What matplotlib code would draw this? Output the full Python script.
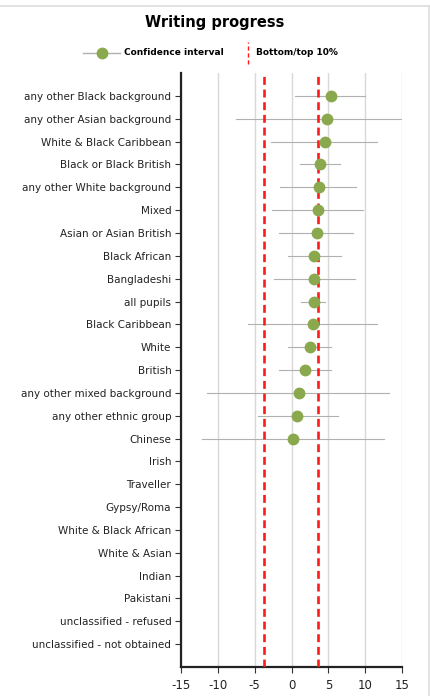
import matplotlib.pyplot as plt
from matplotlib.lines import Line2D

plt.rcParams['axes.unicode_minus'] = False

groups = ['any other Black background', 'any other Asian background', 'White & Black Caribbean',
          'Black or Black British', 'any other White background', 'Mixed', 'Asian or Asian British',
          'Black African', 'Bangladeshi', 'all pupils', 'Black Caribbean', 'White', 'British',
          'any other mixed background', 'any other ethnic group', 'Chinese', 'Irish', 'Traveller',
          'Gypsy/Roma', 'White & Black African', 'White & Asian', 'Indian', 'Pakistani',
          'unclassified - refused', 'unclassified - not obtained']

# progress score and confidence interval (only first 16 groups have data)
score = [5.3, 4.8, 4.5, 3.9, 3.7, 3.6, 3.4, 3.1, 3.1, 3.0, 2.85, 2.45, 1.8, 0.95, 0.8, 0.25]
ci_low = [0.5, -7.6, -2.8, 1.1, -1.5, -2.6, -1.7, -0.45, -2.4, 1.3, -5.95, -0.5, -1.7, -11.45, -4.6, -12.1]
ci_high = [10.0, 15.0, 11.6, 6.6, 8.7, 9.75, 8.4, 6.7, 8.6, 4.6, 11.55, 5.35, 5.4, 13.25, 6.3, 12.5]

bottom_top = [-3.7, 3.6]
xticks = [-15, -10, -5, 0, 5, 10, 15]

green = '#8aa94e'
red = '#ff1a1a'

fig = plt.figure(figsize=(4.3, 6.96), dpi=100)
ax = fig.add_axes([0.421, 0.0417, 0.514, 0.8533])

ypos = list(range(1, len(groups) + 1))
for i in range(len(score)):
    ax.plot([ci_low[i], ci_high[i]], [ypos[i], ypos[i]], color='#b0b0b0', lw=0.8, zorder=2)
ax.plot(score, ypos[:len(score)], 'o', color=green, ms=7.5, zorder=4)

for v in bottom_top:
    ax.axvline(v, color=red, lw=1.9, ls=(0, (3, 1.8)), zorder=3)

ax.set_xlim(-15, 15)
ax.set_ylim(26, 0)
ax.set_xticks(xticks)
ax.set_yticks(ypos)
ax.set_yticklabels(groups, fontsize=7.5, color='#222222')
ax.tick_params(axis='x', labelsize=8.5, length=4, color='#333333', labelcolor='#222222', pad=5)
ax.tick_params(axis='y', length=4, color='#333333', pad=3)
ax.grid(axis='x', color='#d8d8d8', lw=1)
ax.set_axisbelow(True)
for s in ['top', 'right']:
    ax.spines[s].set_visible(False)
for s in ['left', 'bottom']:
    ax.spines[s].set_linewidth(1.6)
    ax.spines[s].set_color('#222222')

fig.text(0.5, 0.968, 'Writing progress', ha='center', va='center', fontsize=10.5, fontweight='bold')

# legend drawn by hand
fig.add_artist(Line2D([83 / 430, 120 / 430], [0.924, 0.924], color='#b0b0b0', lw=1))
fig.add_artist(Line2D([101.5 / 430], [0.924], marker='o', color=green, ms=7.5))
fig.text(124 / 430, 0.924, 'Confidence interval', fontsize=6.5, fontweight='bold', va='center')
fig.add_artist(Line2D([248 / 430, 248 / 430], [0.908, 0.94], color=red, lw=1, ls=(0, (3, 2))))
fig.text(256 / 430, 0.924, 'Bottom/top 10%', fontsize=6.5, fontweight='bold', va='center')

# frame lines
fig.add_artist(Line2D([0, 1], [0.991, 0.991], color='#dddddd', lw=1.2))
fig.add_artist(Line2D([0.997, 0.997], [0, 0.991], color='#dddddd', lw=1.2))

fig.savefig('out.png', dpi=100)
